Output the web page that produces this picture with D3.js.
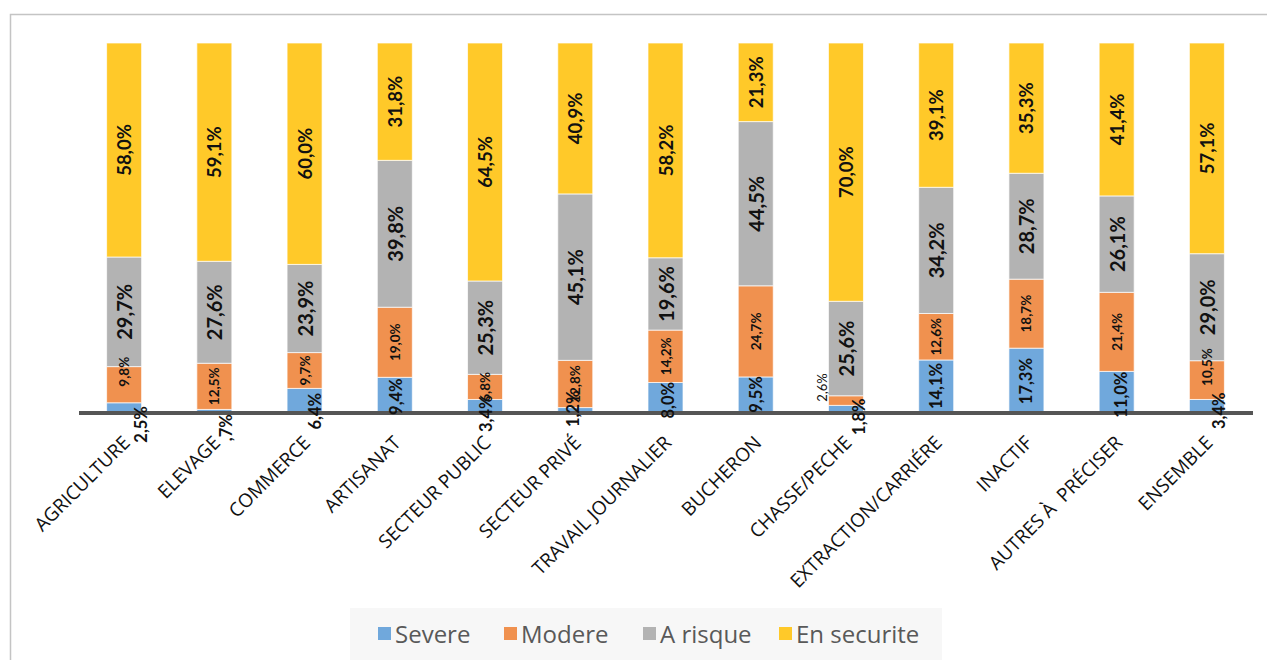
<!DOCTYPE html>
<html><head><meta charset="utf-8">
<script src="https://cdn.jsdelivr.net/npm/d3@7"></script>
<style>
html,body{margin:0;padding:0;background:#fff;}
svg{display:block;}
text{white-space:pre;}
</style></head>
<body>
<svg id="chart" width="1267" height="660"></svg>
<script>
const categories = ["AGRICULTURE","ELEVAGE","COMMERCE","ARTISANAT","SECTEUR PUBLIC","SECTEUR PRIVÉ","TRAVAIL JOURNALIER","BUCHERON","CHASSE/PECHE","EXTRACTION/CARRIÉRE","INACTIF","AUTRES À  PRÉCISER","ENSEMBLE"];
const seriesNames = ["Severe","Modere","A risque","En securite"];
const severe     = [2.5, 0.7, 6.4, 9.4, 3.4, 1.2, 8.0, 9.5, 1.8, 14.1, 17.3, 11.0, 3.4];
const modere     = [9.8, 12.5, 9.7, 19.0, 6.8, 12.8, 14.2, 24.7, 2.6, 12.6, 18.7, 21.4, 10.5];
const aRisque    = [29.7, 27.6, 23.9, 39.8, 25.3, 45.1, 19.6, 44.5, 25.6, 34.2, 28.7, 26.1, 29.0];
const enSecurite = [58.0, 59.1, 60.0, 31.8, 64.5, 40.9, 58.2, 21.3, 70.0, 39.1, 35.3, 41.4, 57.1];

// layout-only: manual nudges of some data labels (series index, category index, dx, dy)
const labelNudges = [
  [0,0,17,17],[0,1,12,17],[0,2,10,11],[0,3,1,2],[0,4,1,8],[0,5,-2,-1],[0,6,2,3],
  [0,8,13,8],[0,10,0,1],[0,11,4,3],[0,12,12,5],
  [1,0,0,-13],[1,8,-24,-13],[1,12,0,-13]
];

const colors = ["#70A8DC","#F0914F","#B3B3B3","#FFC929"];
const labelStyle = [
  {size:16.5, weight:700},
  {size:13.5, weight:700},
  {size:20, weight:700},
  {size:18.5, weight:700}
];

const svg = d3.select("#chart");

// outer frame
svg.append("rect").attr("x",10.5).attr("y",14.5).attr("width",1300).attr("height",700)
  .attr("fill","#fff").attr("stroke","#C4C4C4").attr("stroke-width",1.5);

const table = categories.map((c,i)=>({cat:c, "Severe":severe[i], "Modere":modere[i], "A risque":aRisque[i], "En securite":enSecurite[i]}));
const stacked = d3.stack().keys(seriesNames).offset(d3.stackOffsetExpand)(table);

const x = d3.scaleBand().domain(categories).range([79,1252]).paddingInner(0.612).paddingOuter(0.306);
const y = d3.scaleLinear().domain([0,1]).range([412,43]);

const g = svg.append("g");
stacked.forEach((layer,si)=>{
  g.append("g").selectAll("rect").data(layer).join("rect")
    .attr("x",d=>x(d.data.cat))
    .attr("width",x.bandwidth())
    .attr("y",d=>y(d[1]))
    .attr("height",d=>y(d[0])-y(d[1]))
    .attr("fill",colors[si])
    .attr("stroke","#ffffff").attr("stroke-opacity",0.7).attr("stroke-width",1);
});

// baseline axis
const xAxis = d3.axisBottom(x).tickSize(0).tickFormat("");
const axG = svg.append("g").attr("transform","translate(0,413)").call(xAxis);
axG.select(".domain").attr("stroke","#555555").attr("stroke-width",4).attr("d","M79,0H1253");

// category labels
svg.append("g").selectAll("text").data(categories).join("text")
  .attr("transform",c=>`translate(${x(c)+x.bandwidth()/2+7},444) rotate(-45)`)
  .attr("text-anchor","end")
  .attr("font-family","'Open Sans', Lato, sans-serif")
  .attr("font-size",19)
  .attr("fill","#111")
  .text(c=>c);

// data labels (drawn above the axis line)
const fmt = v=>{
  let s = d3.format(".1f")(v).replace(".",",");
  if (v<1) s = s.replace(/^0/,"");
  return s+"%";
};
const nudgeOf = (si,ci)=>{
  const n = labelNudges.find(a=>a[0]===si && a[1]===ci);
  return n ? [n[2],n[3]] : [0,0];
};
const rawSeries = [severe, modere, aRisque, enSecurite];
const lbl = svg.append("g");
stacked.forEach((layer,si)=>{
  lbl.append("g").selectAll("text").data(layer).join("text")
    .attr("transform",(d,ci)=>{
      const [dx,dy] = nudgeOf(si,ci);
      const cx = x(d.data.cat)+x.bandwidth()/2+dx;
      const cy = (y(d[0])+y(d[1]))/2+dy;
      return `translate(${cx},${cy}) rotate(-90)`;
    })
    .attr("text-anchor","middle")
    .attr("dominant-baseline","central")
    .attr("font-family","Lato, 'Noto Sans', sans-serif")
    .attr("font-size",(d,ci)=> (si===1 && ci===8) ? 13 : labelStyle[si].size)
    .attr("font-weight",(d,ci)=> (si===1 && ci===8) ? 400 : labelStyle[si].weight)
    .attr("fill","#111")
    .text((d,ci)=>fmt(rawSeries[si][ci]));
});

// legend
const lg = svg.append("g");
lg.append("rect").attr("x",350).attr("y",608).attr("width",592).attr("height",52).attr("fill","#F7F7F7");
const legX = [378, 504, 643, 779];
seriesNames.forEach((s,i)=>{
  lg.append("rect").attr("x",legX[i]).attr("y",627).attr("width",13).attr("height",13).attr("fill",colors[i]);
  lg.append("text").attr("x",legX[i]+17).attr("y",633).attr("dominant-baseline","central")
    .attr("font-family","'Open Sans', Lato, sans-serif").attr("font-size",24).attr("fill","#595959")
    .text(s);
});
</script>
</body></html>
